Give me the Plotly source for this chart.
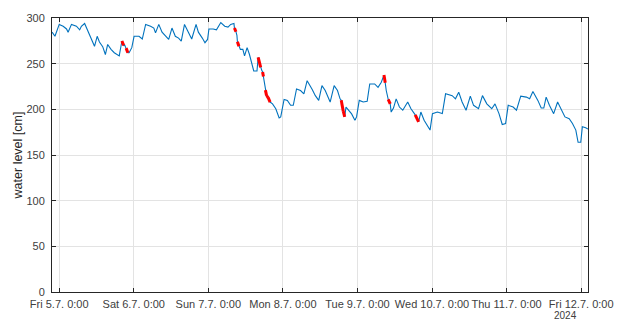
import pandas as pd
import plotly.graph_objects as go

# Water level record, hours after Fri 5.7.2024 0:00
START = pd.Timestamp("2024-07-05 00:00")
hours = [
    -2.3, -1.37, 0.0, 1.27, 2.36, 2.86, 3.95, 5.54, 6.59, 7.13, 8.18, 8.91,
    10.31, 11.36, 12.22, 12.95, 14.0, 14.86, 15.60, 16.68, 17.73, 18.78, 19.32,
    20.18, 20.75, 21.07, 21.55, 22.09, 22.50, 23.36, 24.10, 25.69, 26.74, 27.82,
    29.41, 30.46, 31.00, 32.05, 33.10, 34.19, 35.24, 36.29, 37.37, 38.42, 39.28,
    40.33, 41.60, 42.65, 44.05, 44.79, 46.06, 46.92, 47.75, 48.19, 49.56, 50.61,
    52.01, 53.28, 54.33, 55.19, 56.24, 56.40, 56.88, 57.20, 57.36, 57.84, 58.31,
    59.11, 59.65, 60.48, 61.24, 62.61, 63.66, 64.04, 64.84, 65.16, 65.47, 65.73,
    66.11, 66.37, 66.75, 67.23, 67.87, 68.66, 69.71, 70.79, 71.30, 72.38, 73.43,
    74.48, 75.34, 76.39, 77.67, 78.75, 79.80, 81.39, 82.44, 83.52, 84.57, 85.62,
    86.71, 87.21, 88.49, 89.57, 90.40, 90.78, 91.42, 91.89, 92.31, 93.07, 94.12,
    95.17, 95.71, 96.57, 97.85, 99.12, 99.95, 101.54, 102.62, 103.67, 104.53,
    104.94, 105.26, 105.90, 106.54, 106.85, 107.59, 108.45, 109.50, 110.58,
    112.17, 113.22, 114.59, 115.67, 116.40, 117.45, 118.85, 119.36, 120.13,
    121.72, 123.31, 124.36, 126.49, 127.54, 128.59, 129.68, 130.95, 132.32,
    133.37, 134.96, 136.23, 137.63, 139.22, 140.27, 141.55, 142.60, 143.68,
    144.51, 146.10, 147.18, 148.55, 150.36, 151.42, 152.47, 154.06, 155.14,
    155.97, 156.73, 157.78, 159.15, 160.42, 161.51, 162.78, 164.15, 165.20,
    166.28, 167.01, 167.87, 168.38, 169.46, 170.19,
]
level_cm = [
    284.5, 280, 293, 291, 288, 284.5, 293, 291, 287, 291, 294, 288,
    276.5, 269, 280, 273.7, 268.6, 260, 271, 265.7, 262, 259, 258.5,
    274.8, 270, 270.5, 267, 262, 262, 267.5, 280, 280, 277, 293,
    291, 289, 283.7, 293, 284.5, 280, 276.5, 289, 280, 278, 274.8,
    293, 283.7, 277, 293, 284.5, 278, 273, 276.5, 288, 288, 287,
    295, 291, 290, 293, 294, 289, 285, 281, 274, 269, 265.7,
    265.7, 258.5, 267.5, 260, 242, 242, 257, 246, 243, 241, 236,
    226, 221, 215, 213, 208, 206, 200.7, 190.6, 191.7, 210.9, 209.8,
    204.4, 204.4, 222.3, 220.6, 217, 231.4, 222, 215, 209.8, 226, 220.6,
    211.5, 208, 226, 220.6, 211.5, 210, 198, 191.7, 202.5, 199, 195,
    188, 191.7, 209.8, 208, 208.7, 227.8, 227.8, 224, 229.6, 237.5,
    229, 220.6, 211, 206, 197, 201.4, 211.5, 202.5, 199,
    208, 200.7, 193.9, 186.3, 197, 188, 180.9, 177.3, 195.3,
    197, 195.3, 217, 215, 211.5, 218.8, 208, 199, 214.5,
    204.4, 200.7, 215, 206, 200.7, 206, 195.3, 183.4, 184.5,
    204.4, 202.5, 199, 214.5, 213.4, 211.5, 219.5, 209.8, 201.4,
    201.4, 213.4, 204.4, 195.3, 208, 200.7, 191.7, 189.8, 184.5,
    177.3, 163.9, 163.9, 180.9, 179.8, 178.4,
]
# 1 = sample flagged by quality control
qc_flag = [
    0, 0, 0, 0, 0, 0, 0, 0, 0, 0, 0, 0,
    0, 0, 0, 0, 0, 0, 0, 0, 0, 0, 0,
    1, 1, 0, 1, 1, 0, 0, 0, 0, 0, 0,
    0, 0, 0, 0, 0, 0, 0, 0, 0, 0, 0,
    0, 0, 0, 0, 0, 0, 0, 0, 0, 0, 0,
    0, 0, 0, 0, 0, 1, 1, 0, 1, 1, 0,
    0, 0, 0, 0, 0, 0, 1, 1, 0, 1, 1,
    0, 1, 1, 1, 1, 0, 0, 0, 0, 0, 0,
    0, 0, 0, 0, 0, 0, 0, 0, 0, 0, 0,
    0, 0, 0, 0, 0, 1, 1, 1, 0, 0, 0,
    0, 0, 0, 0, 0, 0, 0, 0, 0, 1,
    1, 0, 1, 1, 0, 0, 0, 0, 0,
    0, 0, 1, 1, 0, 0, 0, 0, 0,
    0, 0, 0, 0, 0, 0, 0, 0, 0,
    0, 0, 0, 0, 0, 0, 0, 0, 0,
    0, 0, 0, 0, 0, 0, 0, 0, 0,
    0, 0, 0, 0, 0, 0, 0, 0, 0,
    0, 0, 0, 0, 0, 0,
]
tick_days = ["2024-07-05", "2024-07-06", "2024-07-07", "2024-07-08",
             "2024-07-09", "2024-07-10", "2024-07-11", "2024-07-12"]
tick_labels = ["Fri 5.7. 0:00", "Sat 6.7. 0:00", "Sun 7.7. 0:00", "Mon 8.7. 0:00",
               "Tue 9.7. 0:00", "Wed 10.7. 0:00", "Thu 11.7. 0:00", "Fri 12.7. 0:00"]
year_label = "2024"

times = [START + pd.Timedelta(hours=h) for h in hours]

# red overlay: segments between consecutive flagged samples
fx, fy = [], []
for i in range(len(times) - 1):
    if qc_flag[i] and qc_flag[i + 1]:
        fx += [times[i], times[i + 1], None]
        fy += [level_cm[i], level_cm[i + 1], None]

fig = go.Figure()
fig.add_trace(go.Scatter(x=times, y=level_cm, mode="lines",
                         line=dict(color="#0072BD", width=1.1), showlegend=False))
fig.add_trace(go.Scatter(x=fx, y=fy, mode="lines", connectgaps=False,
                         line=dict(color="#FF0000", width=3), showlegend=False))

x0 = START + pd.Timedelta(hours=-2.32)
x1 = START + pd.Timedelta(hours=170.2)
FONT = "Liberation Sans, Arial, sans-serif"
axis_font = dict(family=FONT, size=11, color="#404040")

fig.update_layout(
    width=626, height=322,
    margin=dict(l=52, r=32, t=15, b=30),
    paper_bgcolor="white", plot_bgcolor="white",
    font=axis_font,
    xaxis=dict(
        type="date", range=[x0, x1],
        tickvals=[pd.Timestamp(d) for d in tick_days], ticktext=tick_labels,
        ticks="inside", ticklen=4, tickcolor="#262626",
        showline=True, linecolor="#262626", linewidth=1, mirror="ticks",
        showgrid=True, gridcolor="#e3e3e3", gridwidth=1, zeroline=False,
        tickfont=axis_font, ticklabelstandoff=2,
    ),
    yaxis=dict(
        range=[0, 300], tickvals=[0, 50, 100, 150, 200, 250, 300],
        ticks="inside", ticklen=4, tickcolor="#262626",
        showline=True, linecolor="#262626", linewidth=1, mirror="ticks",
        showgrid=True, gridcolor="#e3e3e3", gridwidth=1, zeroline=False,
        tickfont=axis_font, ticklabelstandoff=4,
        title=dict(text="water level [cm]", font=dict(family=FONT, size=12.5, color="#262626"),
                   standoff=1),
    ),
    annotations=[dict(text=year_label, xref="paper", yref="paper",
                      x=(571 - 52) / 542, y=-30 / 277, xanchor="center", yanchor="bottom",
                      borderpad=0, showarrow=False,
                      font=dict(family=FONT, size=10, color="#404040"))],
)

fig.write_html("out.html")
